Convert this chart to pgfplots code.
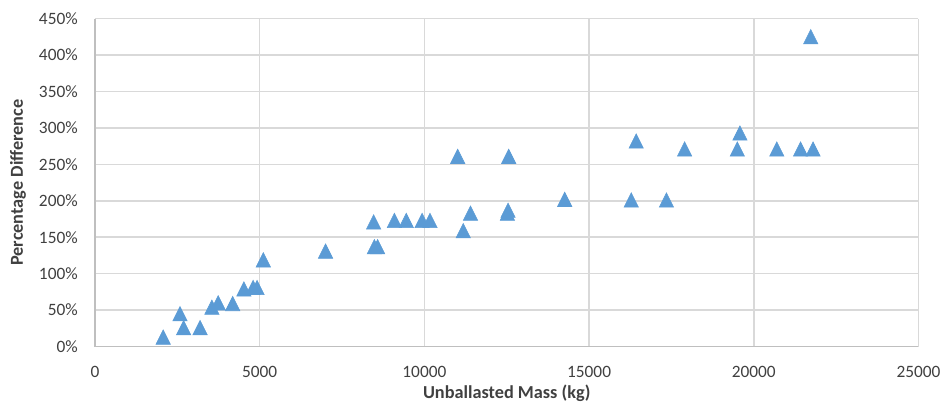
\documentclass[border=0pt]{standalone}
\usepackage{pgfplots}
\pgfplotsset{compat=1.18}
\usepackage{fontspec}
\setmainfont{Carlito}
\definecolor{xlblue}{HTML}{5B9BD5}
\definecolor{gridgray}{HTML}{D9D9D9}
\definecolor{axgray}{HTML}{BFBFBF}
\definecolor{txtgray}{HTML}{404040}

\pgfdeclareplotmark{xltri}{%
  \pgfpathmoveto{\pgfqpoint{0pt}{\pgfplotmarksize}}%
  \pgfpathlineto{\pgfqpoint{\pgfplotmarksize}{-\pgfplotmarksize}}%
  \pgfpathlineto{\pgfqpoint{-\pgfplotmarksize}{-\pgfplotmarksize}}%
  \pgfpathclose
  \pgfusepathqfillstroke}

\pgfplotstableread{
x y
2070 13
2580 45
2690 26
3190 26
3550 54
3740 60
4180 59
4520 79
4800 81
4920 81
5110 119
7000 131
8460 171
8480 137
8580 137
9090 173
9450 173
9930 173
10170 173
11010 261
11180 159
11400 183
12540 187
12520 183
12560 261
14260 202
16280 201
16430 282
17350 201
17900 271
19500 271
19580 293
20700 271
21420 271
21800 271
21730 425
}\datatable

\begin{document}
\begin{tikzpicture}
\begin{axis}[
  scale only axis,
  width=617.6pt, height=246pt,
  xmin=0, xmax=25000, ymin=0, ymax=450,
  xtick={0,5000,...,25000},
  ytick={0,50,...,450},
  scaled ticks=false,
  /pgf/number format/assume math mode=true,
  /pgf/number format/set thousands separator={},
  yticklabel={\pgfmathprintnumber{\tick}\%},
  grid=major,
  major grid style={draw=gridgray, line width=1.2pt},
  axis x line*=bottom, axis y line*=left,
  axis line style={draw=axgray, line width=1.2pt, -},
  major tick length=0pt,
  tick label style={font=\fontsize{13}{15}\selectfont, text=txtgray, inner sep=0pt},
  xticklabel style={anchor=north, yshift=-14.6pt},
  yticklabel style={anchor=east, xshift=-12.75pt},
  xlabel={Unballasted Mass (kg)},
  ylabel={Percentage Difference},
  label style={font=\fontsize{13.7}{16}\selectfont\bfseries, text=txtgray, inner sep=0pt},
  xlabel style={at={(axis description cs:0.5,-0.1418)}, anchor=center},
  ylabel style={at={(axis description cs:-0.0935,0.5)}, anchor=center, rotate=0},
  clip=false,
]
\addplot[only marks, mark=xltri, mark size=5.4pt,
  mark options={fill=xlblue, draw=xlblue, line width=0.4pt}] table[x=x, y=y] {\datatable};
\end{axis}
\pgfresetboundingbox
\useasboundingbox (-71.25pt,-46.1pt) rectangle (635.25pt,259.9pt);
\end{tikzpicture}
\end{document}
